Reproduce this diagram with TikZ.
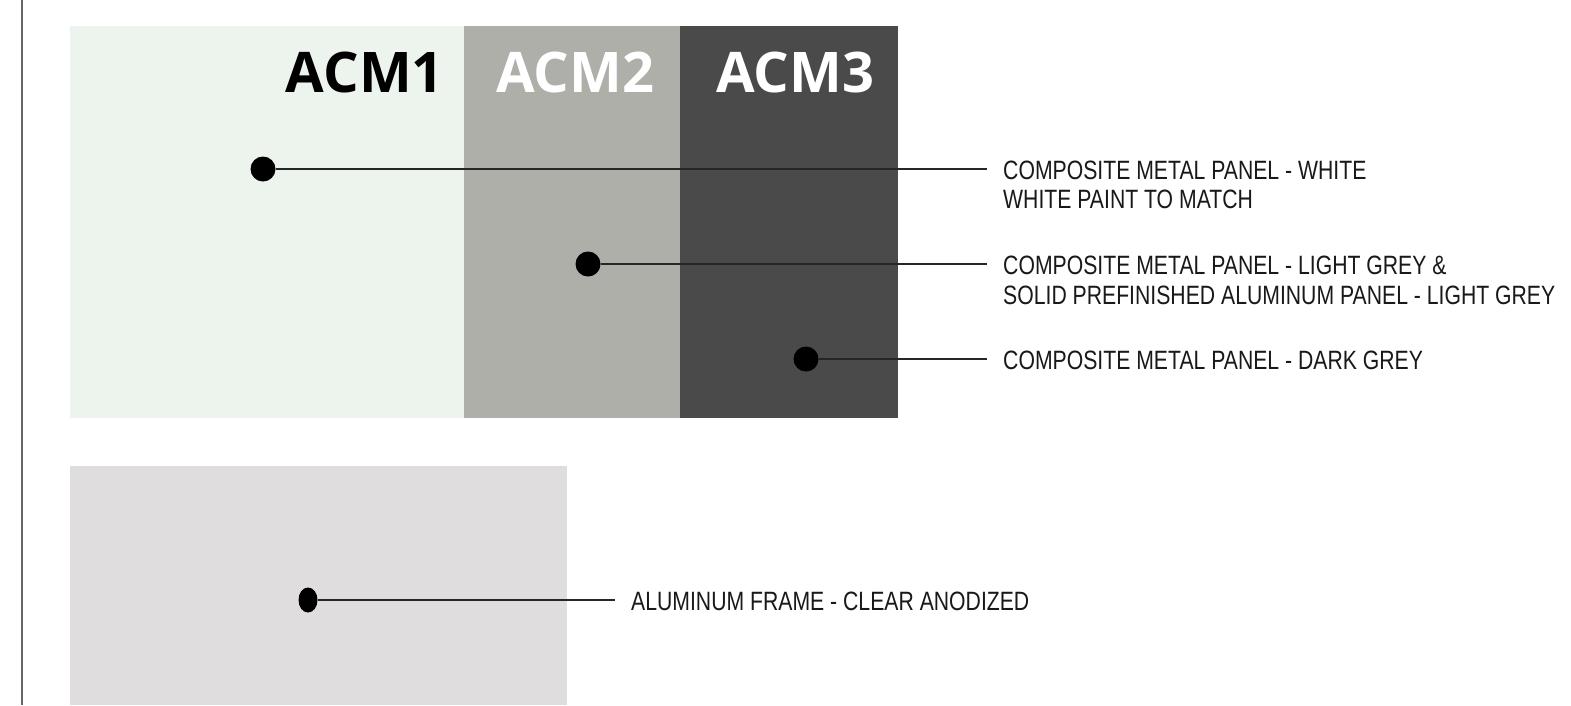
\documentclass[tikz,border=0pt]{standalone}
\usepackage{fontspec}
\setmainfont{Liberation Sans}
\newfontfamily\narrowfont[FakeStretch=0.80]{Liberation Sans}
\newfontfamily\acmfont{Open Sans}
\usetikzlibrary{shapes.geometric}
\definecolor{acmone}{HTML}{EDF4EE}
\definecolor{acmtwo}{HTML}{ADAFA8}
\definecolor{acmthree}{HTML}{4A4A4A}
\definecolor{frame}{HTML}{DFDDDE}
\definecolor{edgegrey}{HTML}{666666}
\begin{document}
\begin{tikzpicture}[x=1pt,y=-1pt,
  dot/.style={circle,fill=black,inner sep=0pt,minimum size=25pt},
  odot/.style={ellipse,fill=black,inner sep=0pt,minimum width=19pt,minimum height=25pt},
  leader/.style={draw=black!85,line width=1.1pt},
  callout/.style={anchor=base west,inner sep=0pt,font=\narrowfont\fontsize{26.5}{30}\selectfont,text=black!90},
  acmlabel/.style={anchor=base,inner sep=0pt,font=\acmfont\bfseries\fontsize{56}{60}\selectfont}]
\useasboundingbox (0,0) rectangle (1571,705);
\fill[white] (0,0) rectangle (1571,705);
% left margin rule
\draw[edgegrey,line width=1.2pt] (22,0) -- (22,705);
% panels
\fill[acmone] (70,26) rectangle (464,418);
\fill[acmtwo] (464,26) rectangle (680,418);
\fill[acmthree] (680,26) rectangle (898,418);
\fill[frame] (70,466) rectangle (567,705);
% labels
\node[acmlabel,anchor=base east,text=black] (l1) at (444,92) {ACM1};
\node[acmlabel,text=white] (l2) at (575,92) {ACM2};
\node[acmlabel,text=white] (l3) at (795,92) {ACM3};
% ends
\coordinate (e1) at (987,169);
\coordinate (e2) at (987,264);
\coordinate (e3) at (987,359);
\coordinate (e4) at (615,600);
% dots
\node[dot] (d1) at (263,169) {};
\node[dot] (d2) at (588,264) {};
\node[dot] (d3) at (806,359) {};
\node[odot] (d4) at (308,600) {};
\draw[leader] (d1) -- (e1);
\draw[leader] (d2) -- (e2);
\draw[leader] (d3) -- (e3);
\draw[leader] (d4) -- (e4);
% callouts
\node[callout] (t1a) at (1003,179) {COMPOSITE METAL PANEL - WHITE};
\node[callout] (t1b) at (1003,208.5) {WHITE PAINT TO MATCH};
\node[callout] (t2a) at (1003,274.5) {COMPOSITE METAL PANEL - LIGHT GREY \&};
\node[callout] (t2b) at (1003,304) {SOLID PREFINISHED ALUMINUM PANEL - LIGHT GREY};
\node[callout] (t3) at (1003,369.5) {COMPOSITE METAL PANEL - DARK GREY};
\node[callout] (t4) at (631,610) {ALUMINUM FRAME - CLEAR ANODIZED};
\end{tikzpicture}
\end{document}
